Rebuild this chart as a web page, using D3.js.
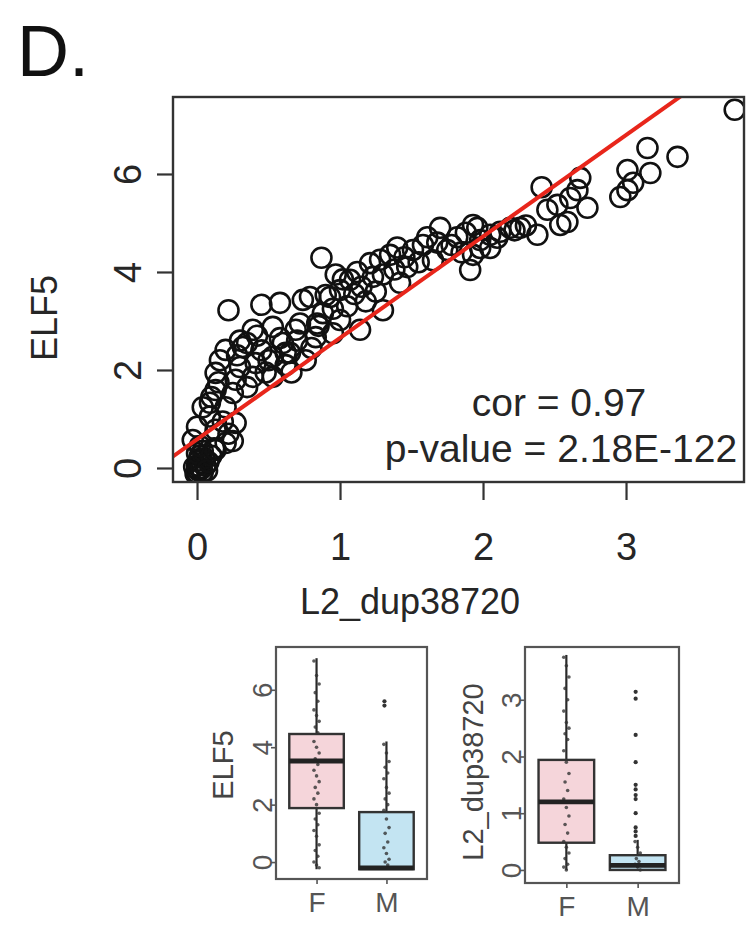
<!DOCTYPE html>
<html>
<head>
<meta charset="utf-8">
<script src="https://cdn.jsdelivr.net/npm/d3@7"></script>
<style>
  html, body { margin: 0; padding: 0; background: #fff; }
  svg { display: block; }
  text { font-family: "Liberation Sans", Arial, Helvetica, sans-serif; }
</style>
</head>
<body>
<svg id="chart" width="747" height="925"></svg>
<script>
// ---------------- data ----------------
const dupX = [
  0.00,0.01,0.02,0.00,0.03,-0.02,0.04,0.01,0.05,0.02,-0.01,0.03,0.06,0.00,0.08,0.04,0.10,0.07,0.02,0.12,
  0.13,0.20,0.27,0.13,0.00,-0.03,0.22,0.25,0.18,0.09,
  0.04,0.09,0.20,0.13,0.25,0.13,0.27,0.39,0.53,0.16,0.30,0.41,0.53,0.65,0.76,0.20,0.32,0.39,0.53,0.69,0.83,0.22,0.45,0.58,0.74,0.90,
  0.45,0.60,0.70,0.62,0.35,0.48,0.58,0.80,0.85,0.95,0.28,0.72,0.66,
  0.87,0.79,0.93,1.00,1.07,1.21,1.23,1.35,1.51,1.61,1.70,1.75,1.93,1.91,2.05,0.88,1.00,1.14,1.30,1.42,1.47,1.65,1.82,1.98,
  1.05,1.10,1.15,1.18,1.25,1.30,1.38,1.45,1.55,1.58,1.68,1.78,1.85,0.95,1.02,1.12,0.84,1.28,1.40,1.88,0.97,
  3.76,3.36,3.15,3.17,3.01,3.05,2.96,3.01,2.73,2.68,2.66,2.59,2.54,2.41,2.45,2.38,2.52,2.61,2.19,2.05,1.96,1.93,1.98,2.12,2.26,
  2.30,2.22,2.10,
  0.35,0.50,0.15,0.42,0.62,0.10,0.30
];
const elf5Y = [
  -0.10,-0.05,0.00,0.05,0.10,0.02,-0.08,0.15,0.20,0.25,-0.12,-0.02,0.05,0.30,0.12,0.35,0.25,-0.05,0.45,0.40,
  0.37,0.51,0.92,0.78,0.84,0.57,0.70,0.55,0.95,1.05,
  1.24,1.33,1.24,1.59,1.53,1.94,1.80,1.86,1.86,2.20,2.06,2.14,2.27,2.35,2.20,2.41,2.47,2.82,2.88,2.82,2.67,3.22,3.33,3.37,3.43,3.53,
  2.40,2.55,2.60,2.10,1.65,1.95,2.65,2.45,2.90,2.75,2.30,2.95,1.95,
  4.29,3.49,3.49,3.63,3.84,4.18,3.90,4.35,4.45,4.71,4.90,4.45,4.96,4.04,4.49,3.16,3.02,2.82,3.22,3.78,4.10,4.24,4.71,4.65,
  3.30,3.55,3.70,3.40,3.60,3.95,4.05,4.30,4.20,4.55,4.60,4.55,4.40,3.25,3.85,4.00,2.95,4.25,4.50,4.80,3.95,
  7.31,6.35,6.53,6.02,6.08,5.82,5.53,5.67,5.31,5.92,5.67,5.02,4.96,5.73,5.27,4.76,5.37,5.51,4.90,4.76,4.90,4.35,4.49,4.82,4.90,
  4.95,4.85,4.70,
  2.55,2.20,1.75,2.70,2.35,1.45,2.60
];
const fitCoef = [0.584, 2.07];           // intercept, slope
const xTicks = [0, 1, 2, 3];
const yTicks = [0, 2, 4, 6];
const corText = "cor = 0.97";
const pText = "p-value = 2.18E-122";

const sexGroups = ["F", "M"];
// [lower whisker, Q1, median, Q3, upper whisker]
const elf5Stats = [[-0.25, 1.88, 3.52, 4.46, 7.1], [-0.25, -0.25, -0.2, 1.74, 4.2]];
const elf5OutliersM = [5.6, 5.45];
const elf5JitterF = [7.0,6.5,6.2,5.9,5.6,5.3,5.1,4.9,4.7,4.5,4.2,4.0,3.8,3.6,3.4,3.2,3.0,2.8,2.6,2.4,2.2,2.0,1.7,1.5,1.3,1.1,0.9,0.6,0.4,0.2,0.0,-0.1,-0.2];
const elf5JitterM = [4.1,3.8,3.5,3.3,3.1,2.9,2.6,2.4,2.2,2.0,1.8,1.5,1.2,1.0,0.7,0.5,0.3,0.1,0.0,-0.1,-0.2];
const elf5BoxTicks = [0, 2, 4, 6];

const dupStats = [[0, 0.48, 1.2, 1.94, 3.79], [0, 0, 0.08, 0.26, 0.53]];
const dupOutliersM = [3.14, 3.02, 2.38, 1.9, 1.5, 1.42, 1.32, 1.25, 1.0, 0.75, 0.68, 0.6];
const dupJitterF = [3.75,3.6,3.4,3.2,3.0,2.8,2.6,2.5,2.4,2.3,2.1,1.9,1.7,1.55,1.4,1.25,1.1,0.95,0.8,0.65,0.5,0.4,0.3,0.2,0.1,0.05,0];
const dupJitterM = [0.5,0.4,0.3,0.2,0.15,0.1,0.05,0];
const dupBoxTicks = [0, 1, 2, 3];

const boxFill = ["#f5d5da", "#c3e4f2"];

// ---------------- drawing ----------------
const svg = d3.select("#chart");
const ink = "#262626";
const FONT = "Liberation Sans, Arial, sans-serif";

svg.append("text").attr("x", 17).attr("y", 76)
  .attr("font-size", 72).attr("fill", "#111").text("D.");

// scatter panel
const P = { left: 173, right: 744, top: 97, bottom: 482 };
const x = d3.scaleLinear().domain([-0.168, 3.825]).range([P.left, P.right]);
const y = d3.scaleLinear().domain([-0.286, 7.571]).range([P.bottom, P.top]);

svg.append("clipPath").attr("id", "clipMain")
  .append("rect").attr("x", P.left).attr("y", P.top)
  .attr("width", P.right - P.left).attr("height", P.bottom - P.top);

const pts = dupX.map((d, i) => ({ x: d, y: elf5Y[i] }));
svg.append("g").attr("clip-path", "url(#clipMain)")
  .selectAll("circle").data(pts).join("circle")
  .attr("cx", d => x(d.x)).attr("cy", d => y(d.y)).attr("r", 10)
  .attr("fill", "none").attr("stroke", "#111").attr("stroke-width", 2.6);

const xs = x.domain();
svg.append("g").attr("clip-path", "url(#clipMain)")
  .append("line")
  .attr("x1", x(xs[0])).attr("y1", y(fitCoef[0] + fitCoef[1] * xs[0]))
  .attr("x2", x(xs[1])).attr("y2", y(fitCoef[0] + fitCoef[1] * xs[1]))
  .attr("stroke", "#e8261b").attr("stroke-width", 4);

svg.append("rect").attr("x", P.left).attr("y", P.top)
  .attr("width", P.right - P.left).attr("height", P.bottom - P.top)
  .attr("fill", "none").attr("stroke", "#333").attr("stroke-width", 2.4);

// x axis
const xAxis = d3.axisBottom(x).tickValues(xTicks).tickSize(18).tickPadding(60).tickFormat(d3.format("d"));
const gx = svg.append("g").attr("transform", `translate(0,${P.bottom})`).call(xAxis);
gx.select(".domain").remove();
gx.selectAll(".tick line").attr("stroke", "#333").attr("stroke-width", 2.2);
gx.selectAll(".tick text").attr("font-size", 38).attr("fill", ink)
  .attr("font-family", FONT).attr("dy", null);

// y axis
const yAxis = d3.axisLeft(y).tickValues(yTicks).tickSize(16).tickPadding(0).tickFormat(d3.format("d"));
const gy = svg.append("g").attr("transform", `translate(${P.left},0)`).call(yAxis);
gy.select(".domain").remove();
gy.selectAll(".tick line").attr("stroke", "#333").attr("stroke-width", 2.2);
gy.selectAll(".tick text").attr("font-size", 38).attr("fill", ink)
  .attr("font-family", FONT)
  .attr("x", null).attr("dy", null)
  .attr("text-anchor", "middle")
  .attr("transform", "translate(-32,0) rotate(-90)");

svg.append("text").attr("transform", `translate(57,318) rotate(-90)`)
  .attr("text-anchor", "middle").attr("font-size", 36).attr("fill", ink).text("ELF5");
svg.append("text").attr("x", 410).attr("y", 614)
  .attr("text-anchor", "middle").attr("font-size", 36).attr("fill", ink).text("L2_dup38720");

svg.append("text").attr("x", 559).attr("y", 416).attr("text-anchor", "middle")
  .attr("font-size", 39).attr("fill", ink).text(corText);
svg.append("text").attr("x", 561).attr("y", 462).attr("text-anchor", "middle")
  .attr("font-size", 39).attr("fill", ink).text(pText);

// ---------------- box plots ----------------
function boxPanel(cfg) {
  const { left, right, top, bottom, domain, stats, jitter, outliers, ticks, label, labelX, labelY } = cfg;
  const bx = d3.scaleLinear().domain([0.42, 2.58]).range([left, right]);
  const by = d3.scaleLinear().domain(domain).range([bottom, top]);
  const g = svg.append("g");
  const halfW = (bx(1.39) - bx(1));
  const gray = "#555";

  stats.forEach((s, i) => {
    const cx = bx(i + 1);
    g.append("line").attr("x1", cx).attr("x2", cx)
      .attr("y1", by(s[0])).attr("y2", by(s[4]))
      .attr("stroke", "#2a2a2a").attr("stroke-width", 2.2);
    g.append("rect").attr("x", cx - halfW).attr("width", 2 * halfW)
      .attr("y", by(s[3])).attr("height", Math.max(by(s[1]) - by(s[3]), 1))
      .attr("fill", boxFill[i]).attr("stroke", "#333").attr("stroke-width", 2.4);
  });
  jitter.forEach((vals, i) => {
    const cx = bx(i + 1);
    g.selectAll(null).data(vals).join("circle")
      .attr("cx", (d, k) => cx + ((k * 7) % 5 - 2) * 1.3)
      .attr("cy", d => by(d)).attr("r", 1.8)
      .attr("fill", "#333").attr("opacity", 0.8);
  });
  g.selectAll(null).data(outliers).join("circle")
    .attr("cx", (d, k) => bx(2) + ((k * 3) % 3 - 1) * 2)
    .attr("cy", d => by(d)).attr("r", 2.1)
    .attr("fill", "#333");
  stats.forEach((s, i) => {
    const cx = bx(i + 1);
    g.append("line").attr("x1", cx - halfW).attr("x2", cx + halfW)
      .attr("y1", by(s[2])).attr("y2", by(s[2]))
      .attr("stroke", "#222").attr("stroke-width", 4.8);
  });
  g.append("rect").attr("x", left).attr("y", top)
    .attr("width", right - left).attr("height", bottom - top)
    .attr("fill", "none").attr("stroke", gray).attr("stroke-width", 2.2);
  const ay = g.append("g").attr("transform", `translate(${left},0)`)
    .call(d3.axisLeft(by).tickValues(ticks).tickSize(5).tickFormat(d3.format("d")));
  ay.select(".domain").remove();
  ay.selectAll(".tick line").attr("stroke", gray).attr("stroke-width", 1.6);
  ay.selectAll(".tick text").attr("font-size", 28).attr("fill", gray)
    .attr("font-family", FONT)
    .attr("x", null).attr("dy", null).attr("text-anchor", "middle")
    .attr("transform", "translate(-4,0) rotate(-90)");
  const ax = g.append("g").attr("transform", `translate(0,${bottom})`)
    .call(d3.axisBottom(bx).tickValues([1, 2]).tickSize(5).tickPadding(8)
      .tickFormat((d, i) => sexGroups[i]));
  ax.select(".domain").remove();
  ax.selectAll(".tick line").attr("stroke", gray).attr("stroke-width", 1.6);
  ax.selectAll(".tick text").attr("font-size", 28).attr("fill", gray)
    .attr("font-family", FONT);
  g.append("text").attr("transform", `translate(${labelX},${labelY}) rotate(-90)`)
    .attr("text-anchor", "middle").attr("font-size", 29).attr("fill", "#444").text(label);
}

boxPanel({
  left: 276, right: 427, top: 647, bottom: 879, domain: [-0.59, 7.49],
  stats: elf5Stats, jitter: [elf5JitterF, elf5JitterM], outliers: elf5OutliersM,
  ticks: elf5BoxTicks, label: "ELF5", labelX: 233, labelY: 765
});
boxPanel({
  left: 525, right: 679, top: 647, bottom: 883, domain: [-0.23, 3.93],
  stats: dupStats, jitter: [dupJitterF, dupJitterM], outliers: dupOutliersM,
  ticks: dupBoxTicks, label: "L2_dup38720", labelX: 483, labelY: 772
});
</script>
</body>
</html>
